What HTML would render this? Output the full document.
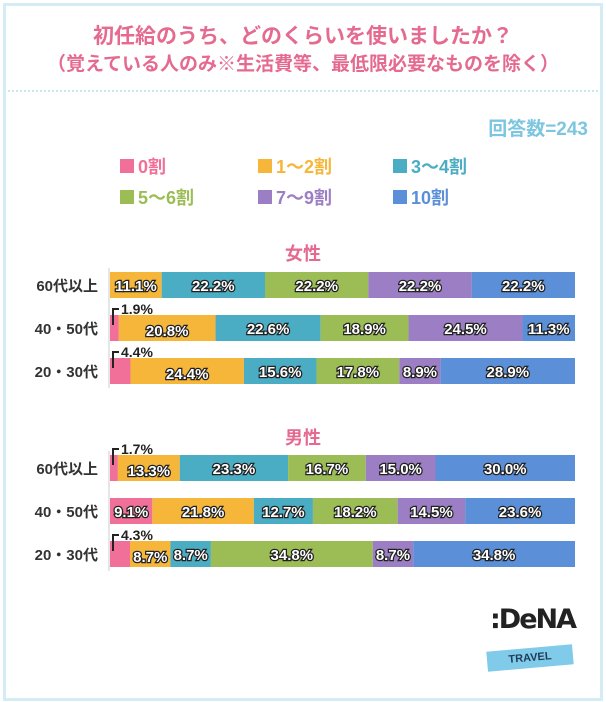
<!DOCTYPE html>
<html><head><meta charset="utf-8"><style>
body{margin:0;width:606px;height:702px;background:#fff;font-family:"Liberation Sans","Noto Sans CJK JP",sans-serif;overflow:hidden}
#frame{position:absolute;left:3px;top:3px;width:594px;height:692px;border:3px solid #d4ecf3}
.t{position:absolute;font-weight:bold;white-space:nowrap}
</style></head><body>
<div id="frame"></div>
<div class="t" style="left:0;width:606px;text-align:center;top:20px;font-size:21px;color:#e56a90">初任給のうち、どのくらいを使いましたか？</div>
<div class="t" style="left:0;width:606px;text-align:center;top:49px;font-size:19px;color:#e56a90">（覚えている人のみ※生活費等、最低限必要なものを除く）</div>
<div style="position:absolute;left:8px;top:90px;width:590px;border-top:2px dotted #c8e6ef"></div>
<div class="t" style="right:18px;top:114px;font-size:19px;color:#7cc6e0">回答数=243</div>
<svg id="c" width="606" height="702" style="position:absolute;left:0;top:0"></svg>
<div style="position:absolute;left:490px;top:604px">
<div class="t" style="left:0;top:0;font-size:27px;color:#222;font-family:'DejaVu Sans',sans-serif;letter-spacing:-2px">:DeNA</div>
<div class="t" style="left:-3px;top:44px;width:86px;height:20px;background:#7fcbe9;transform:rotate(-5deg);text-align:center;font-size:11px;line-height:20px;color:#1f3b57">TRAVEL</div>
</div>
<script>
const categories=["0割","1～2割","3～4割","5～6割","7～9割","10割"];
const colors=["#f0709a","#f5b63a","#4badc4","#9cbd55","#9b7ec3","#5b8fd7"];
const groups=["女性","男性"];
const rowLabels=["60代以上","40・50代","20・30代"];
const female60=[0,11.1,22.2,22.2,22.2,22.2];
const female40=[1.9,20.8,22.6,18.9,24.5,11.3];
const female20=[4.4,24.4,15.6,17.8,8.9,28.9];
const male60=[1.7,13.3,23.3,16.7,15.0,30.0];
const male40=[9.1,21.8,12.7,18.2,14.5,23.6];
const male20=[4.3,8.7,8.7,34.8,8.7,34.8];
const data=[[female60,female40,female20],[male60,male40,male20]];
const svg=document.getElementById('c');const NS='http://www.w3.org/2000/svg';
function el(t,a,p){const e=document.createElementNS(NS,t);for(const k in a)e.setAttribute(k,a[k]);(p||svg).appendChild(e);return e;}
const x0=110,x1=575;
function xs(v){return x0+(x1-x0)*v/100;}
const legPos=[[120,173],[258,173],[393,173],[120,204],[258,204],[393,204]];
categories.forEach((c,i)=>{
 const g=el('g',{});
 
 
 el('rect',{x:legPos[i][0],y:legPos[i][1]-14,width:14,height:14,fill:colors[i]},g);
 const t=el('text',{x:legPos[i][0]+18,y:legPos[i][1],fill:colors[i],'font-size':18,'font-weight':'bold'},g);t.textContent=c;
});
const groupY=[250,434];const rowY=[[272,315,358],[455,498,541]];const bh=26;
groups.forEach((gname,gi)=>{
 const gt=el('text',{x:303,y:groupY[gi]+10,'text-anchor':'middle',fill:'#e56a90','font-size':18,'font-weight':'bold'});
 
 
 gt.textContent=gname;
 el('line',{x1:x0-1,x2:x0-1,y1:rowY[gi][0]-4,y2:rowY[gi][2]+bh+4,stroke:'#ccc'});
 data[gi].forEach((vals,ri)=>{
  const y=rowY[gi][ri];
  const rl=el('text',{x:98,y:y+bh/2+6,'text-anchor':'end',fill:'#333','font-size':15,'font-weight':'bold'});
  
  
  rl.textContent=rowLabels[ri];
  const tot=vals.reduce((a,b)=>a+b,0);let acc=0;
  const hasSmall=vals[0]>0&&vals[0]<6;
  vals.forEach((v,si)=>{
   if(v<=0)return;
   const xa=xs(acc/tot*100),xb=xs((acc+v)/tot*100);acc+=v;
   const r=el('rect',{x:xa,y:y,width:xb-xa,height:bh,fill:colors[si]});
   
   
   const lbl=v.toFixed(1)+'%';
   if(v<6){
    el('path',{d:`M${xa+3} ${y+10} V${y-6} H${xa+9}`,stroke:'#222','stroke-width':2,fill:'none'});
    const t=el('text',{x:xa+11,y:y-1,fill:'#222','font-size':14,'font-weight':'bold'});t.textContent=lbl;
   } else {
    const dy=(hasSmall&&si===1)?2:0;
    const t=el('text',{x:(xa+xb)/2,y:y+bh/2+6+dy,'text-anchor':'middle',fill:'#fff',stroke:'#222','stroke-width':2.5,'paint-order':'stroke','font-size':15,'font-weight':'bold'});
    
    
    t.textContent=lbl;
   }
  });
 });
});
</script>
</body></html>
